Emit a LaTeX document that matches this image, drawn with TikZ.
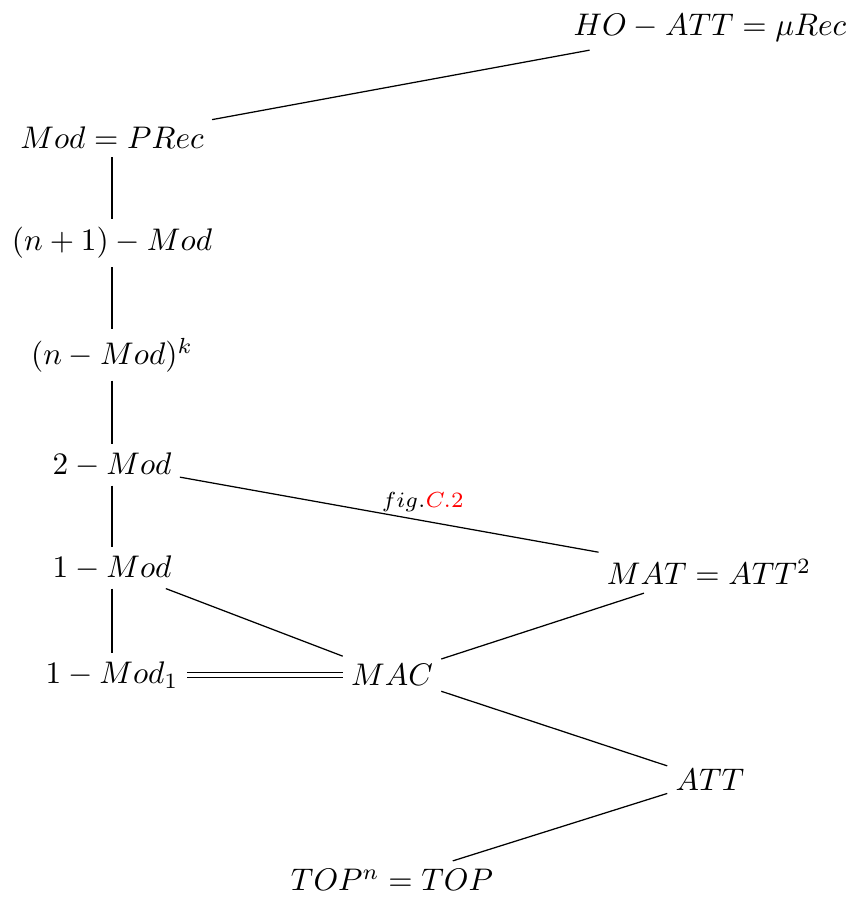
\documentclass[tikz,border=0pt]{standalone}
\begin{document}
\begin{tikzpicture}[x=0.32pt,y=-0.32pt,
  every node/.style={inner sep=2.5pt},
  edge/.style={draw=black,line width=0.4pt},
  dbl/.style={draw=black,double,double distance=1pt,line width=0.4pt},
  lbl/.style={font=\scriptsize,inner sep=2.5pt}]
\useasboundingbox (0,0) rectangle (853,900);
\node (ho)   at (710,28)  {$HO-ATT=\mu Rec$};
\node (mod)  at (112,138) {$Mod=PRec$};
\node (n1)   at (112,243) {$(n+1)-Mod$};
\node (nk)   at (112,355) {$(n-Mod)^k$};
\node (m2)   at (112,465) {$2-Mod$};
\node (m1)   at (112,568) {$1-Mod$};
\node (m11)  at (112,675) {$1-Mod_1$};
\node (mac)  at (392,675) {$MAC$};
\node (mat)  at (709,572) {$MAT=ATT^2$};
\node (att)  at (710,780) {$ATT$};
\node (top)  at (392,880) {$TOP^n=TOP$};
\draw[edge] (mod) -- (ho);
\draw[edge] (mod) -- (n1);
\draw[edge] (n1) -- (nk);
\draw[edge] (nk) -- (m2);
\draw[edge] (m2) -- (m1);
\draw[edge] (m1) -- (m11);
\draw[edge] (m2) -- node[lbl,pos=0.58,above] {$fig.\textcolor{red}{C.2}$} (mat);
\draw[edge] (m1) -- (mac);
\draw[dbl] (m11) -- (mac);
\draw[edge] (mac) -- (mat);
\draw[edge] (mac) -- (att);
\draw[edge] (att) -- (top);
\end{tikzpicture}
\end{document}
